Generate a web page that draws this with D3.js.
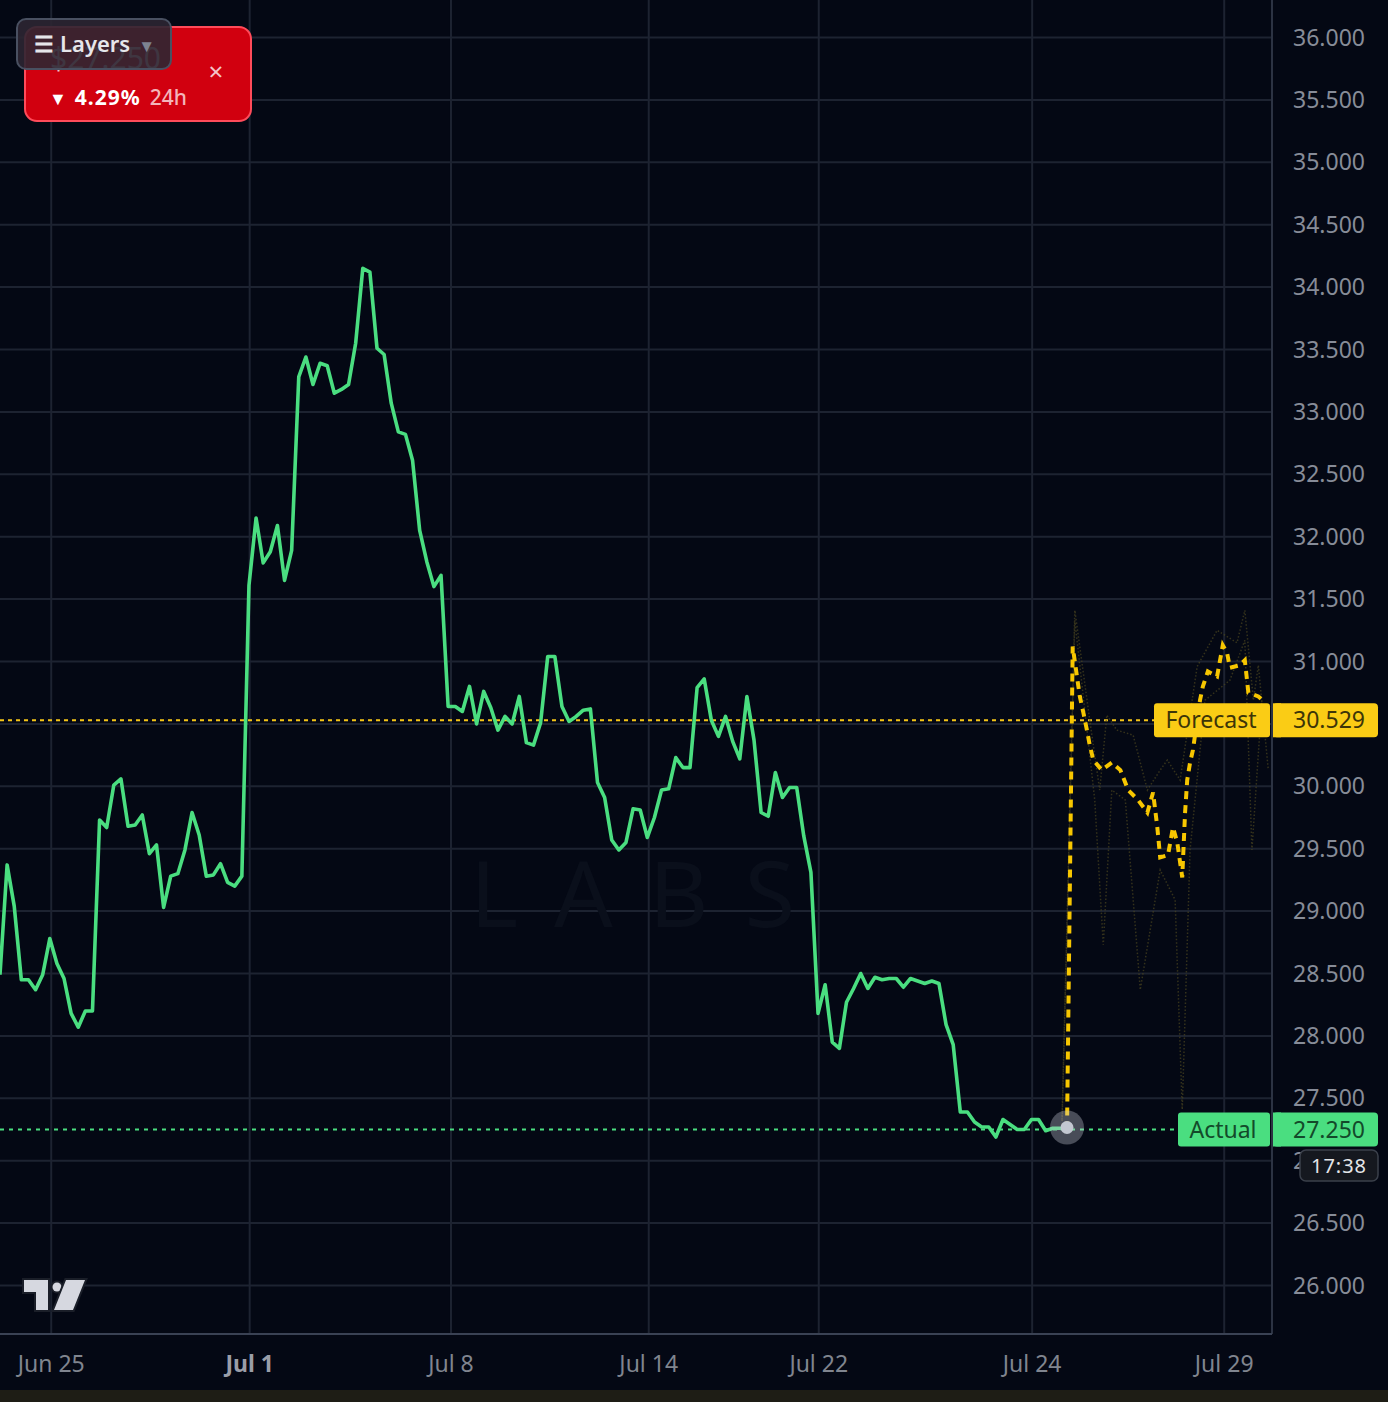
<!DOCTYPE html>
<html>
<head>
<meta charset="utf-8">
<script src="https://cdn.jsdelivr.net/npm/d3@7"></script>
<style>
  html, body { margin: 0; padding: 0; background: #040814; }
  svg { display: block; font-family: "Noto Sans", "Open Sans", sans-serif; }
</style>
</head>
<body>
<svg width="1388" height="1402"></svg>
<script>
// actual price, one value per bar (bar 0 .. 150)
var actualValues = [
  28.49, 29.37, 29.04, 28.45, 28.45, 28.37, 28.49, 28.78, 28.58, 28.46,
  28.18, 28.07, 28.20, 28.20, 29.73, 29.67, 30.01, 30.06, 29.68, 29.69,
  29.77, 29.46, 29.53, 29.03, 29.28, 29.30, 29.49, 29.79, 29.61, 29.28,
  29.29, 29.38, 29.23, 29.20, 29.28, 31.61, 32.15, 31.79, 31.88, 32.09,
  31.65, 31.89, 33.28, 33.44, 33.22, 33.39, 33.37, 33.15, 33.18, 33.22,
  33.55, 34.15, 34.12, 33.51, 33.46, 33.07, 32.84, 32.82, 32.61, 32.05,
  31.80, 31.60, 31.69, 30.64, 30.64, 30.60, 30.80, 30.50, 30.76, 30.63,
  30.45, 30.56, 30.50, 30.72, 30.35, 30.33, 30.51, 31.04, 31.04, 30.64,
  30.52, 30.56, 30.61, 30.62, 30.03, 29.91, 29.57, 29.49, 29.55, 29.82,
  29.81, 29.59, 29.75, 29.97, 29.98, 30.23, 30.15, 30.15, 30.79, 30.86,
  30.53, 30.40, 30.56, 30.36, 30.22, 30.72, 30.37, 29.79, 29.76, 30.11,
  29.91, 29.99, 29.99, 29.60, 29.31, 28.18, 28.41, 27.95, 27.90, 28.27,
  28.38, 28.50, 28.38, 28.47, 28.45, 28.46, 28.46, 28.39, 28.46, 28.44,
  28.42, 28.44, 28.42, 28.09, 27.93, 27.39, 27.39, 27.31, 27.27, 27.27,
  27.19, 27.33, 27.29, 27.25, 27.25, 27.33, 27.33, 27.24, 27.26, 27.26,
  27.25
];

// forecast path (bar position, value)
var forecastBars = [150, 150.8, 151.4, 151.8, 152.3, 152.8, 153.2, 153.7, 154.9, 156.3,
  157.5, 158.6, 160.0, 161.3, 162.1, 162.7, 163.1, 164.2, 164.9, 165.5,
  166.2, 166.6, 166.9, 167.3, 167.7, 168.7, 169.1, 169.8, 171.1, 171.9,
  172.5, 172.9, 174.3, 175.0, 175.5, 176.9, 177.7];
var forecastValues = [27.25, 31.12, 30.88, 30.72, 30.59, 30.45, 30.33, 30.21, 30.13, 30.19,
  30.13, 29.97, 29.89, 29.79, 29.95, 29.67, 29.43, 29.45, 29.67, 29.55,
  29.27, 29.79, 30.05, 30.19, 30.29, 30.69, 30.80, 30.92, 30.88, 31.13,
  31.07, 30.95, 30.97, 31.01, 30.75, 30.72, 30.68];

// faint forecast bands
var upperBars = [149.3, 151.1, 153.2, 154.6, 155.6, 157.0, 159.3, 161.3, 163.1, 164.1,
  165.9, 168.3, 171.1, 173.9, 175.0, 176.2, 176.9, 178.3];
var upperValues = [27.33, 31.41, 30.53, 29.97, 30.57, 30.45, 30.41, 29.97, 30.13, 30.21,
  30.05, 30.96, 31.25, 31.15, 31.41, 30.69, 30.97, 30.13];
var lowerBars = [149.3, 151.1, 153.9, 155.1, 156.3, 158.2, 160.3, 163.1, 165.2, 166.2,
  167.3, 169.4, 172.9, 175.0, 176.0, 177.4];
var lowerValues = [27.29, 31.33, 29.89, 28.73, 29.97, 29.89, 28.37, 29.33, 29.09, 27.41,
  29.49, 30.69, 30.85, 31.17, 29.49, 30.69];

var priceTicks = [26, 26.5, 27, 27.5, 28, 28.5, 29, 29.5, 30, 31, 31.5, 32,
  32.5, 33, 33.5, 34, 34.5, 35, 35.5, 36];
var gridTicks = [26, 26.5, 27, 27.5, 28, 28.5, 29, 29.5, 30, 30.5, 31, 31.5, 32,
  32.5, 33, 33.5, 34, 34.5, 35, 35.5, 36];
var dateTickBars = [7.2, 35.1, 63.4, 91.2, 115.1, 145.1, 172.1];
var dateTickLabels = ['Jun 25', 'Jul 1', 'Jul 8', 'Jul 14', 'Jul 22', 'Jul 24', 'Jul 29'];

var forecastPrice = 30.529;
var actualPrice = 27.250;

var W = 1272, H = 1334;
var x = d3.scaleLinear().domain([0, 150]).range([0, 1067]);
var y = d3.scaleLinear().domain([26, 36]).range([1285.5, 37.5]);
var fmt = d3.format('.3f');

var svg = d3.select('svg');

svg.append('rect').attr('width', 1388).attr('height', 1402).attr('fill', '#040814');
svg.append('rect').attr('x', 0).attr('y', 1390).attr('width', 1388).attr('height', 12).attr('fill', '#1e1d15');

svg.append('defs').append('clipPath').attr('id', 'plot')
  .append('rect').attr('width', W).attr('height', H);

// grid
var grid = svg.append('g').attr('clip-path', 'url(#plot)');
grid.selectAll('line.h').data(gridTicks).enter().append('line')
  .attr('x1', 0).attr('x2', W)
  .attr('y1', function(d){ return y(d); }).attr('y2', function(d){ return y(d); })
  .attr('stroke', '#1d2331').attr('stroke-width', 2);
grid.selectAll('line.v').data(dateTickBars).enter().append('line')
  .attr('y1', 0).attr('y2', H)
  .attr('x1', function(d){ return x(d); }).attr('x2', function(d){ return x(d); })
  .attr('stroke', '#1d2331').attr('stroke-width', 2);

// watermark
svg.append('text').attr('x', 470).attr('y', 927)
  .attr('font-size', 92).attr('textLength', 325).attr('lengthAdjust', 'spacing')
  .attr('fill', '#0a0f1b').text('LABS');

// right axis + bottom axis borders
svg.append('line').attr('x1', W).attr('x2', W).attr('y1', 0).attr('y2', H)
  .attr('stroke', '#2c3343').attr('stroke-width', 2);
svg.append('line').attr('x1', 0).attr('x2', W).attr('y1', H).attr('y2', H)
  .attr('stroke', '#3a4254').attr('stroke-width', 2);

svg.selectAll('text.price').data(priceTicks).enter().append('text')
  .attr('class', 'price')
  .attr('x', 1365).attr('y', function(d){ return y(d) + 8; })
  .attr('text-anchor', 'end').attr('font-size', 23)
  .attr('fill', '#878c98')
  .text(function(d){ return fmt(d); });

svg.selectAll('text.date').data(dateTickBars).enter().append('text')
  .attr('x', function(d){ return x(d); }).attr('y', 1372)
  .attr('text-anchor', 'middle').attr('font-size', 23)
  .attr('font-weight', function(d, i){ return dateTickLabels[i] === 'Jul 1' ? 700 : 400; })
  .attr('fill', function(d, i){ return dateTickLabels[i] === 'Jul 1' ? '#9a9ea8' : '#80858f'; })
  .text(function(d, i){ return dateTickLabels[i]; });

var plot = svg.append('g').attr('clip-path', 'url(#plot)');

// price lines
plot.append('line').attr('x1', 0).attr('x2', 1160)
  .attr('y1', y(forecastPrice)).attr('y2', y(forecastPrice))
  .attr('stroke', '#f5c518').attr('stroke-width', 2).attr('stroke-dasharray', '4,4');
plot.append('line').attr('x1', 0).attr('x2', 1180)
  .attr('y1', y(actualPrice)).attr('y2', y(actualPrice))
  .attr('stroke', '#4ade80').attr('stroke-width', 2).attr('stroke-dasharray', '4,5');

// faint bands
var bandLine = d3.line().x(function(d){ return x(d[0]); }).y(function(d){ return y(d[1]); });
[[upperBars, upperValues], [lowerBars, lowerValues]].forEach(function(s){
  plot.append('path')
    .datum(d3.zip(s[0], s[1]))
    .attr('d', bandLine)
    .attr('fill', 'none').attr('stroke', '#4a4420')
    .attr('stroke-width', 1.5).attr('stroke-dasharray', '1.5,2')
    .attr('opacity', 0.7);
});

// actual line
var actualLine = d3.line().x(function(d, i){ return x(i); }).y(function(d){ return y(d); });
plot.append('path').datum(actualValues)
  .attr('d', actualLine)
  .attr('fill', 'none').attr('stroke', '#4ade80')
  .attr('stroke-width', 3.6).attr('stroke-linejoin', 'round');

// forecast line
plot.append('path')
  .datum(d3.zip(forecastBars, forecastValues))
  .attr('d', bandLine)
  .attr('fill', 'none').attr('stroke', '#f7c600')
  .attr('stroke-width', 4).attr('stroke-dasharray', '8,6');

// last point marker
var lastI = actualValues.length - 1;
svg.append('circle').attr('cx', x(lastI)).attr('cy', y(actualValues[lastI]) - 2)
  .attr('r', 17).attr('fill', 'rgba(200,204,214,0.35)');
svg.append('circle').attr('cx', x(lastI)).attr('cy', y(actualValues[lastI]) - 2)
  .attr('r', 6.5).attr('fill', '#c3c7d1');

// labels on the price scale
function priceTag(val, name, fill, textFill, leftX) {
  var cy = y(val);
  svg.append('rect').attr('x', leftX).attr('y', cy - 17).attr('width', 1270 - leftX).attr('height', 34)
    .attr('rx', 3).attr('fill', fill);
  svg.append('text').attr('x', (leftX + 1268) / 2).attr('y', cy + 8)
    .attr('text-anchor', 'middle').attr('font-size', 23).attr('fill', textFill).text(name);
  svg.append('rect').attr('x', 1273).attr('y', cy - 17).attr('width', 105).attr('height', 34)
    .attr('rx', 4).attr('fill', fill);
  svg.append('rect').attr('x', 1273).attr('y', cy - 17).attr('width', 8).attr('height', 34)
    .attr('fill', fill);
  svg.append('text').attr('x', 1365).attr('y', cy + 8)
    .attr('text-anchor', 'end').attr('font-size', 23).attr('fill', textFill).text(fmt(val));
}
priceTag(forecastPrice, 'Forecast', '#facc15', '#3d3508', 1154);
priceTag(actualPrice, 'Actual', '#4ade80', '#134a2a', 1178);

// countdown
svg.append('rect').attr('x', 1300).attr('y', 1150).attr('width', 78).attr('height', 31)
  .attr('rx', 6).attr('fill', '#15181f').attr('stroke', '#3b404b').attr('stroke-width', 1.5);
svg.append('text').attr('x', 1339).attr('y', 1173).attr('text-anchor', 'middle')
  .attr('font-size', 20).attr('letter-spacing', 1).attr('fill', '#e4e5e9').text('17:38');

// TradingView logo
var logo = svg.append('g').attr('fill', '#d6d8e0').attr('stroke', '#1a1e28')
  .attr('stroke-width', 4).attr('paint-order', 'stroke');
logo.append('path').attr('d', 'M24,1280 H48 V1310 H36 V1292 H24 Z');
logo.append('circle').attr('cx', 57).attr('cy', 1287).attr('r', 4.5);
logo.append('path').attr('d', 'M66,1280 H85 L73,1310 H54 Z');

// red ticker card
svg.append('rect').attr('x', 25).attr('y', 27).attr('width', 226).attr('height', 94)
  .attr('rx', 12).attr('fill', '#d1000f').attr('stroke', '#ff4b5a').attr('stroke-width', 2);
svg.append('text').attr('x', 50).attr('y', 69).attr('font-size', 30)
  .attr('fill', '#e9c9cd').text('$27.250');
svg.append('text').attr('x', 216).attr('y', 81).attr('text-anchor', 'middle')
  .attr('font-size', 26).attr('fill', '#f5c4c8').text('×');
var chg = svg.append('text').attr('x', 49).attr('y', 105).attr('font-size', 21).attr('font-weight', 700);
chg.append('tspan').attr('fill', '#ffffff').attr('font-size', 18).text('▼');
chg.append('tspan').attr('fill', '#ffffff').attr('dx', 8).attr('letter-spacing', 1).text('4.29%');
chg.append('tspan').attr('fill', '#f3b5ba').attr('dx', 9).attr('font-weight', 500).text('24h');

// layers button
svg.append('rect').attr('x', 17).attr('y', 19).attr('width', 154).attr('height', 50)
  .attr('rx', 9).attr('fill', 'rgba(44,38,50,0.9)').attr('stroke', '#495061').attr('stroke-width', 2);
var lay = svg.append('text').attr('x', 34).attr('y', 52).attr('font-size', 22).attr('font-weight', 600);
lay.append('tspan').attr('fill', '#e6e6ea').text('☰');
lay.append('tspan').attr('fill', '#e6e6ea').attr('dx', 6).text('Layers');
lay.append('tspan').attr('fill', '#7d8391').attr('dx', 8).attr('font-size', 17).text('▼');
</script>
</body>
</html>
